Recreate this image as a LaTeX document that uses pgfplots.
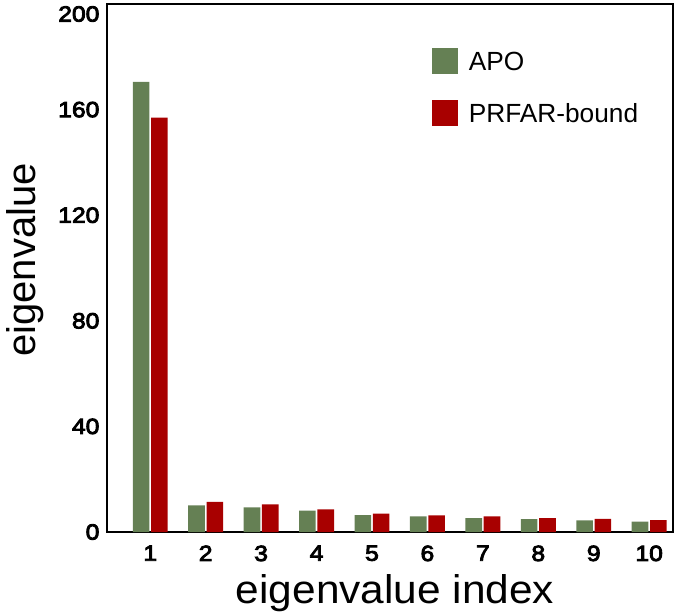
\documentclass[border=0pt]{standalone}
\usepackage{fontspec}
\setmainfont{Liberation Sans}
\newfontfamily\tickfont{Liberation Sans}[FakeStretch=1.12, FakeBold=4]
\newfontfamily\xlabfont{Liberation Sans}[FakeStretch=1.06]
\usepackage{pgfplots}
\pgfplotsset{compat=1.18}

\definecolor{apogreen}{HTML}{658054}
\definecolor{prfarred}{HTML}{A80000}

\begin{document}
\begin{tikzpicture}
\begin{axis}[
    name=ax,
    scale only axis,
    width=424.5pt, height=396pt,
    xmin=0.22, xmax=10.43,
    ymin=0, ymax=200,
    xtick={1,...,10},
    ytick={0,40,80,120,160},
    extra y ticks={200},
    extra y tick style={yticklabel style={yshift=-7.5pt}},
    major tick length=0pt,
    axis line style={line width=1.4pt},
    /pgf/number format/assume math mode=true,
    ticklabel style={font=\tickfont\fontsize{16.5}{18}\selectfont, inner sep=0pt},
    yticklabel style={xshift=-5.5pt},
    xticklabel style={yshift=-10pt, anchor=north},
    xlabel={eigenvalue index},
    ylabel={eigenvalue},
    every axis x label/.style={at={(axis description cs:0.5,0)}, anchor=north,
        yshift=-32pt, xshift=3.75pt, inner sep=0pt, font=\xlabfont\fontsize{30}{34}\selectfont},
    every axis y label/.style={at={(axis description cs:0,0.5)}, anchor=center, rotate=90,
        yshift=61.5pt, xshift=6pt, inner sep=0pt, font=\fontsize{30}{34}\selectfont},
    legend style={draw=none, fill=none, at={(0.574,0.917)}, anchor=north west,
        inner sep=0pt, column sep=8pt, row sep=19.5pt,
        font=\fontsize{19.7}{22}\selectfont,
        nodes={inner sep=0pt, text height=14.1pt, text depth=0pt}},
    legend cell align=left,
    legend image code/.code={\fill[#1] (0pt,-9.75pt) rectangle (19.5pt,9.75pt);},
]
\addplot[ybar, bar width=0.3, bar shift=-0.165, fill=apogreen, draw=none] coordinates {
    (1,170.5) (2,10.1) (3,9.3) (4,8.1) (5,6.4) (6,5.9) (7,5.3) (8,4.9) (9,4.4) (10,3.9)
};
\addlegendentry{APO}
\addplot[ybar, bar width=0.3, bar shift=0.165, fill=prfarred, draw=none] coordinates {
    (1,157.0) (2,11.4) (3,10.5) (4,8.6) (5,7.0) (6,6.3) (7,5.9) (8,5.3) (9,5.0) (10,4.5)
};
\addlegendentry{PRFAR-bound}
\end{axis}
\path ([xshift=-80.25pt, yshift=-62.25pt]ax.south west) rectangle ([xshift=427.5pt, yshift=399pt]ax.south west);
\end{tikzpicture}
\end{document}
